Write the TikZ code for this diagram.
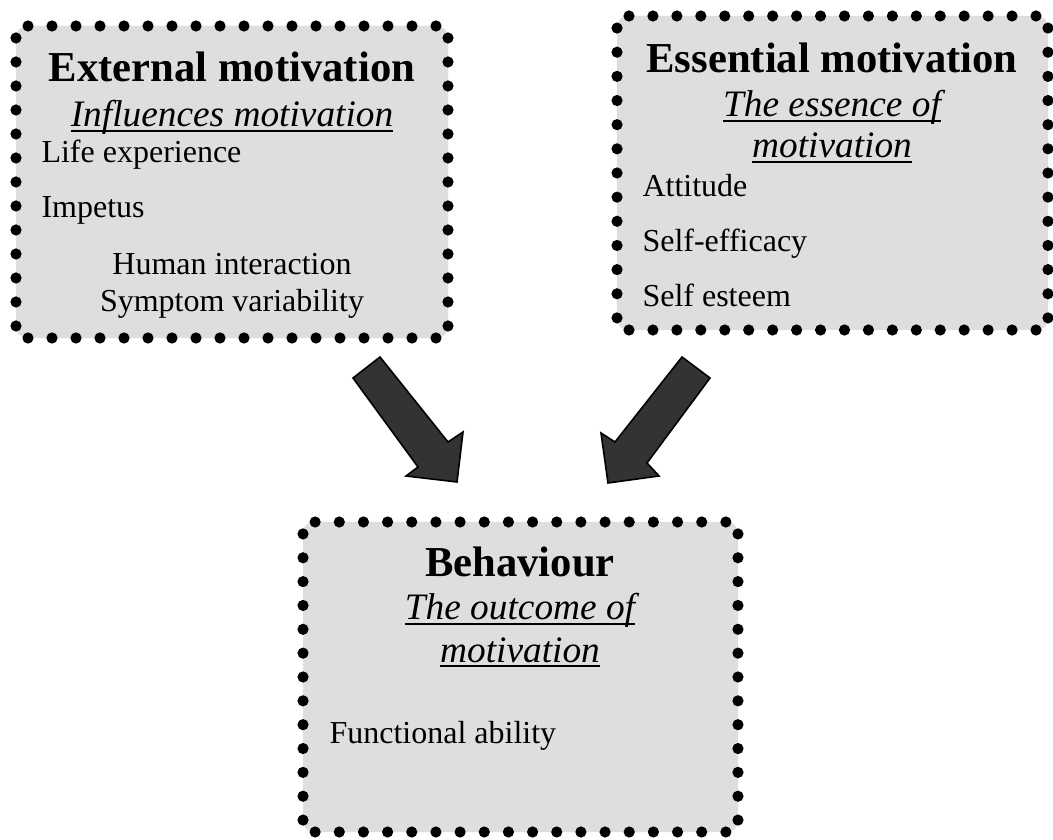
\documentclass[tikz,border=0pt]{standalone}
\usepackage{fontspec}
\setmainfont{Liberation Serif}
\usetikzlibrary{calc}
\definecolor{boxgray}{RGB}{222,222,222}
\definecolor{arrowgray}{RGB}{51,51,51}
\newcommand\myul[1]{\setbox0\hbox{#1}\rlap{\rule[-1.7pt]{\wd0}{0.7pt}}\box0}
\newcommand\dotedges[1]{%
  \foreach \i in {0,...,17}{%
    \fill[black] ($(#1.north west)!{(\i+0.5)/18}!(#1.north east)$) circle[radius=2.1pt];
    \fill[black] ($(#1.south west)!{(\i+0.5)/18}!(#1.south east)$) circle[radius=2.1pt];
  }%
  \foreach \i in {0,...,12}{%
    \fill[black] ($(#1.north west)!{(\i+0.5)/13}!(#1.south west)$) circle[radius=2.1pt];
    \fill[black] ($(#1.north east)!{(\i+0.5)/13}!(#1.south east)$) circle[radius=2.1pt];
  }%
}
\begin{document}
\begin{tikzpicture}[x=0.375pt,y=-0.375pt,
  dotbox/.style={fill=boxgray, rounded corners=4pt, inner sep=0pt, outer sep=0pt},
  ttl/.style={anchor=base, inner sep=0pt, font=\fontsize{16}{19}\selectfont\bfseries},
  sub/.style={anchor=base, inner sep=0pt, font=\fontsize{14}{17}\selectfont\itshape},
  itm/.style={anchor=base west, inner sep=0pt, font=\fontsize{12}{14}\selectfont},
  itmc/.style={anchor=base, inner sep=0pt, font=\fontsize{12}{14}\selectfont},
  blockarrow/.style={draw=black, fill=arrowgray, line width=0.6pt, line join=miter}]
\useasboundingbox (0,0) rectangle (1053,840);
% boxes
\node[dotbox, minimum width=162pt, minimum height=117pt] (ext) at (232,182) {};
\node[dotbox, minimum width=161.6pt, minimum height=117.75pt] (ess) at (832.5,173) {};
\node[dotbox, minimum width=163.1pt, minimum height=116.25pt] (beh) at (520.5,677) {};
\dotedges{ext}
\dotedges{ess}
\dotedges{beh}
% external
\node[ttl] (extt) at (232,82) {External motivation};
\node[sub] (exts) at (232,127) {\myul{Influences motivation}};
\node[itm] (ext1) at (41,163) {Life experience};
\node[itm] (ext2) at (41,218) {Impetus};
\node[itmc] (ext3) at (232,275) {Human interaction};
\node[itmc] (ext4) at (232,312) {Symptom variability};
% essential
\node[ttl] (esst) at (832,73) {Essential motivation};
\node[sub] (esss1) at (832,117) {\myul{The essence of}};
\node[sub] (esss2) at (832,158) {\myul{motivation}};
\node[itm] (ess1) at (642,197) {Attitude};
\node[itm] (ess2) at (642,252) {Self-efficacy};
\node[itm] (ess3) at (642,307) {Self esteem};
% behaviour
\node[ttl] (beht) at (520,577) {Behaviour};
\node[sub] (behs1) at (520,620) {\myul{The outcome of}};
\node[sub] (behs2) at (520,662) {\myul{motivation}};
\node[itm] (beh1) at (329,743) {Functional ability};
% block arrows
\draw[blockarrow] (353,378) -- (380,357) -- (448,442) -- (463,432) -- (457,482) -- (406,476) -- (418,467) -- cycle;
\draw[blockarrow] (682,357) -- (710,378) -- (647,463) -- (659,476) -- (608,483) -- (601,433) -- (615,442) -- cycle;
\end{tikzpicture}
\end{document}
